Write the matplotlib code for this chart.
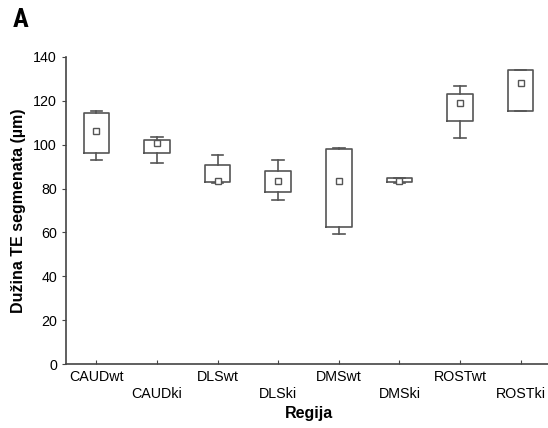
import matplotlib.pyplot as plt
from matplotlib import font_manager

# Vrednosti ocitane sa grafika
regije = ['CAUDwt', 'CAUDki', 'DLSwt', 'DLSki', 'DMSwt', 'DMSki', 'ROSTwt', 'ROSTki']
whisk_lo = [93.2, 91.7, 82.6, 74.9, 59.1, 82.7, 103.1, 115.5]
box_lo = [96.2, 96.2, 83.0, 78.6, 62.3, 83.0, 110.6, 115.5]
box_hi = [114.3, 102.3, 90.7, 88.0, 97.9, 84.7, 123.3, 133.9]
whisk_hi = [115.2, 103.5, 95.3, 92.9, 98.5, 85.0, 126.9, 133.9]
srednja = [106.2, 100.6, 83.4, 83.4, 83.4, 83.6, 118.8, 128.3]

plt.rcParams['font.family'] = ['Liberation Sans', 'DejaVu Sans']

fig = plt.figure(figsize=(5.48, 4.28), dpi=100)
ax = fig.add_axes([66 / 548, 1 - 364 / 428, 485 / 548, 307 / 428])

stats = []
for i in range(len(regije)):
    stats.append({
        'label': regije[i],
        'whislo': whisk_lo[i], 'q1': box_lo[i], 'med': srednja[i],
        'q3': box_hi[i], 'whishi': whisk_hi[i], 'mean': srednja[i],
        'fliers': [],
    })

siva = '#555555'
ax.bxp(stats, positions=range(1, 9), widths=0.42, showmeans=True,
       boxprops=dict(color=siva, linewidth=1.2),
       whiskerprops=dict(color=siva, linewidth=1.2),
       capprops=dict(color=siva, linewidth=1.2),
       medianprops=dict(linewidth=0),
       meanprops=dict(marker='s', markersize=5, markerfacecolor='white',
                      markeredgecolor=siva, markeredgewidth=1.0),
       capwidths=0.19)

ax.set_xlim(0.5, 8.5)
ax.set_ylim(0, 140)
ax.set_yticks(range(0, 141, 20))
ax.set_xticks(range(1, 9))
ax.set_xticklabels([r if i % 2 == 0 else '\n' + r for i, r in enumerate(regije)],
                   linespacing=1.35)

for s in ['top', 'right']:
    ax.spines[s].set_visible(False)
for s in ['left', 'bottom']:
    ax.spines[s].set_color('#444444')
    ax.spines[s].set_linewidth(1.2)

ax.tick_params(axis='y', direction='out', length=3, colors='#444444', labelsize=10.3, labelcolor='black')
ax.tick_params(axis='x', direction='in', length=3, colors='#444444', labelsize=10.3, labelcolor='black', pad=4)

ax.set_xlabel('Regija', fontsize=11.5, fontweight='bold', labelpad=3)
ax.set_ylabel('Dužina TE segmenata (µm)', fontsize=11.5, fontweight='bold', labelpad=5)

# uski font za oznaku panela, ako postoji
imena = {f.name for f in font_manager.fontManager.ttflist}
uski = [n for n in ['Liberation Sans Narrow', 'DejaVu Sans Condensed', 'Roboto Condensed'] if n in imena]
if uski:
    fig.text(13 / 548, 1 - 20 / 428, 'A', fontsize=19, fontweight='bold', va='center', ha='left',
             family=[uski[0], 'DejaVu Sans'])
else:
    fig.text(13 / 548, 1 - 20 / 428, 'A', fontsize=19, fontweight='bold', va='center', ha='left',
             family=['DejaVu Sans'], fontstretch='condensed')

fig.savefig('out.png', dpi=100)
